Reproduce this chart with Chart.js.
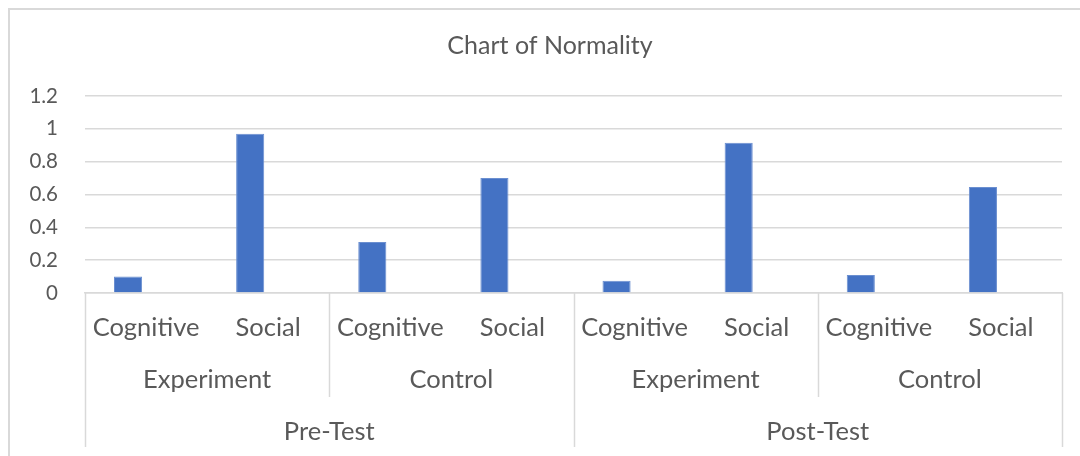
<!DOCTYPE html>
<html>
<head>
<meta charset="utf-8">
<script src="https://cdn.jsdelivr.net/npm/chart.js@4.4.1/dist/chart.umd.min.js"></script>
<style>
  html, body { margin: 0; padding: 0; background: #fff; }
  #frame {
    position: absolute; left: 8px; top: 8px; width: 1100px; height: 460px;
    border-left: 2px solid #d9d9d9; border-top: 2px solid #d9d9d9;
  }
  #wrap { position: absolute; left: 0; top: 0; width: 1080px; height: 456px; }
</style>
</head>
<body>
<div id="frame"></div>
<div id="wrap"><canvas id="chart"></canvas></div>
<script>
// categories, three levels
const subLabels = ['Cognitive', 'Social', 'Cognitive', 'Social', 'Cognitive', 'Social', 'Cognitive', 'Social'];
const groupLabels = ['Experiment', 'Control', 'Experiment', 'Control'];
const testLabels = ['Pre-Test', 'Post-Test'];

// values
const normality = [0.10, 0.97, 0.31, 0.70, 0.075, 0.915, 0.11, 0.645];
// second (empty) series that keeps the bars shifted to the left, as in the sheet
const emptySeries = [null, null, null, null, null, null, null, null];

const yTicks = [0, 0.2, 0.4, 0.6, 0.8, 1, 1.2];

const textColor = '#595959';
const lineColor = '#d9d9d9';
const fontFamily = 'Lato, "Open Sans", sans-serif';

// vertical separators between the category groups
const separators = {
    id: 'separators',
    afterLayout(chart) {
        // the sheet centres the title a bit right of the canvas middle
        chart.titleBlock.left += 38;
    },
    afterDraw(chart) {
        const x = chart.scales.x;
        const x2 = chart.scales.x2;
        const x3 = chart.scales.x3;
        const ctx = chart.ctx;
        ctx.save();
        ctx.strokeStyle = lineColor;
        ctx.lineWidth = 1.5;
        for (let i = 0; i <= subLabels.length; i += 2) {
            const px = Math.round(x.getPixelForValue(i - 0.5)) + 0.5;
            const bottom = (i % 4 === 0) ? x3.bottom : x2.bottom;
            ctx.beginPath();
            ctx.moveTo(px, x.top);
            ctx.lineTo(px, bottom);
            ctx.stroke();
        }
        ctx.restore();
    }
};

function labelAxis(labels, weight, height) {
    return {
        type: 'category',
        position: 'bottom',
        labels: labels,
        offset: true,
        weight: weight,
        grid: { display: false, drawTicks: false },
        border: { display: false },
        ticks: {
            color: textColor,
            font: { family: fontFamily, size: 25.5 },
            padding: 19,
            maxRotation: 0,
            autoSkip: false
        },
        afterFit(scale) { scale.height = height; }
    };
}

document.addEventListener('DOMContentLoaded', () => {
    const ctx = document.getElementById('chart').getContext('2d');
    const x1 = labelAxis(subLabels, 0, 52);
    x1.border = { display: true, color: lineColor, width: 1.5 };

    new Chart(ctx, {
        type: 'bar',
        data: {
            labels: subLabels,
            datasets: [
                {
                    label: 'Normality',
                    data: normality,
                    backgroundColor: '#4472c4',
                    borderColor: '#6b8fd0',
                    borderWidth: 1,
                    categoryPercentage: 0.59,
                    barPercentage: 0.78
                },
                {
                    label: '',
                    data: emptySeries,
                    backgroundColor: '#ed7d31',
                    categoryPercentage: 0.59,
                    barPercentage: 0.78
                }
            ]
        },
        options: {
            responsive: true,
            maintainAspectRatio: false,
            animation: false,
            layout: { padding: { left: 0, right: 18, top: 0, bottom: 9 } },
            plugins: {
                legend: { display: false },
                tooltip: { enabled: false },
                title: {
                    display: true,
                    text: 'Chart of Normality',
                    color: textColor,
                    font: { family: fontFamily, size: 25, weight: 'normal' },
                    padding: { top: 31, bottom: 35 }
                }
            },
            scales: {
                x: x1,
                x2: labelAxis(groupLabels, 1, 52),
                x3: labelAxis(testLabels, 2, 50),
                y: {
                    min: 0,
                    max: 1.2,
                    grid: { color: lineColor, lineWidth: 1.5, drawTicks: false },
                    border: { display: false },
                    afterBuildTicks(scale) {
                        scale.ticks = yTicks.map(v => ({ value: v }));
                    },
                    ticks: {
                        color: textColor,
                        font: { family: fontFamily, size: 20.5 },
                        padding: 27,
                        callback: v => String(v)
                    },
                    afterFit(scale) { scale.width = 85; }
                }
            }
        },
        plugins: [separators]
    });
});
</script>
</body>
</html>
